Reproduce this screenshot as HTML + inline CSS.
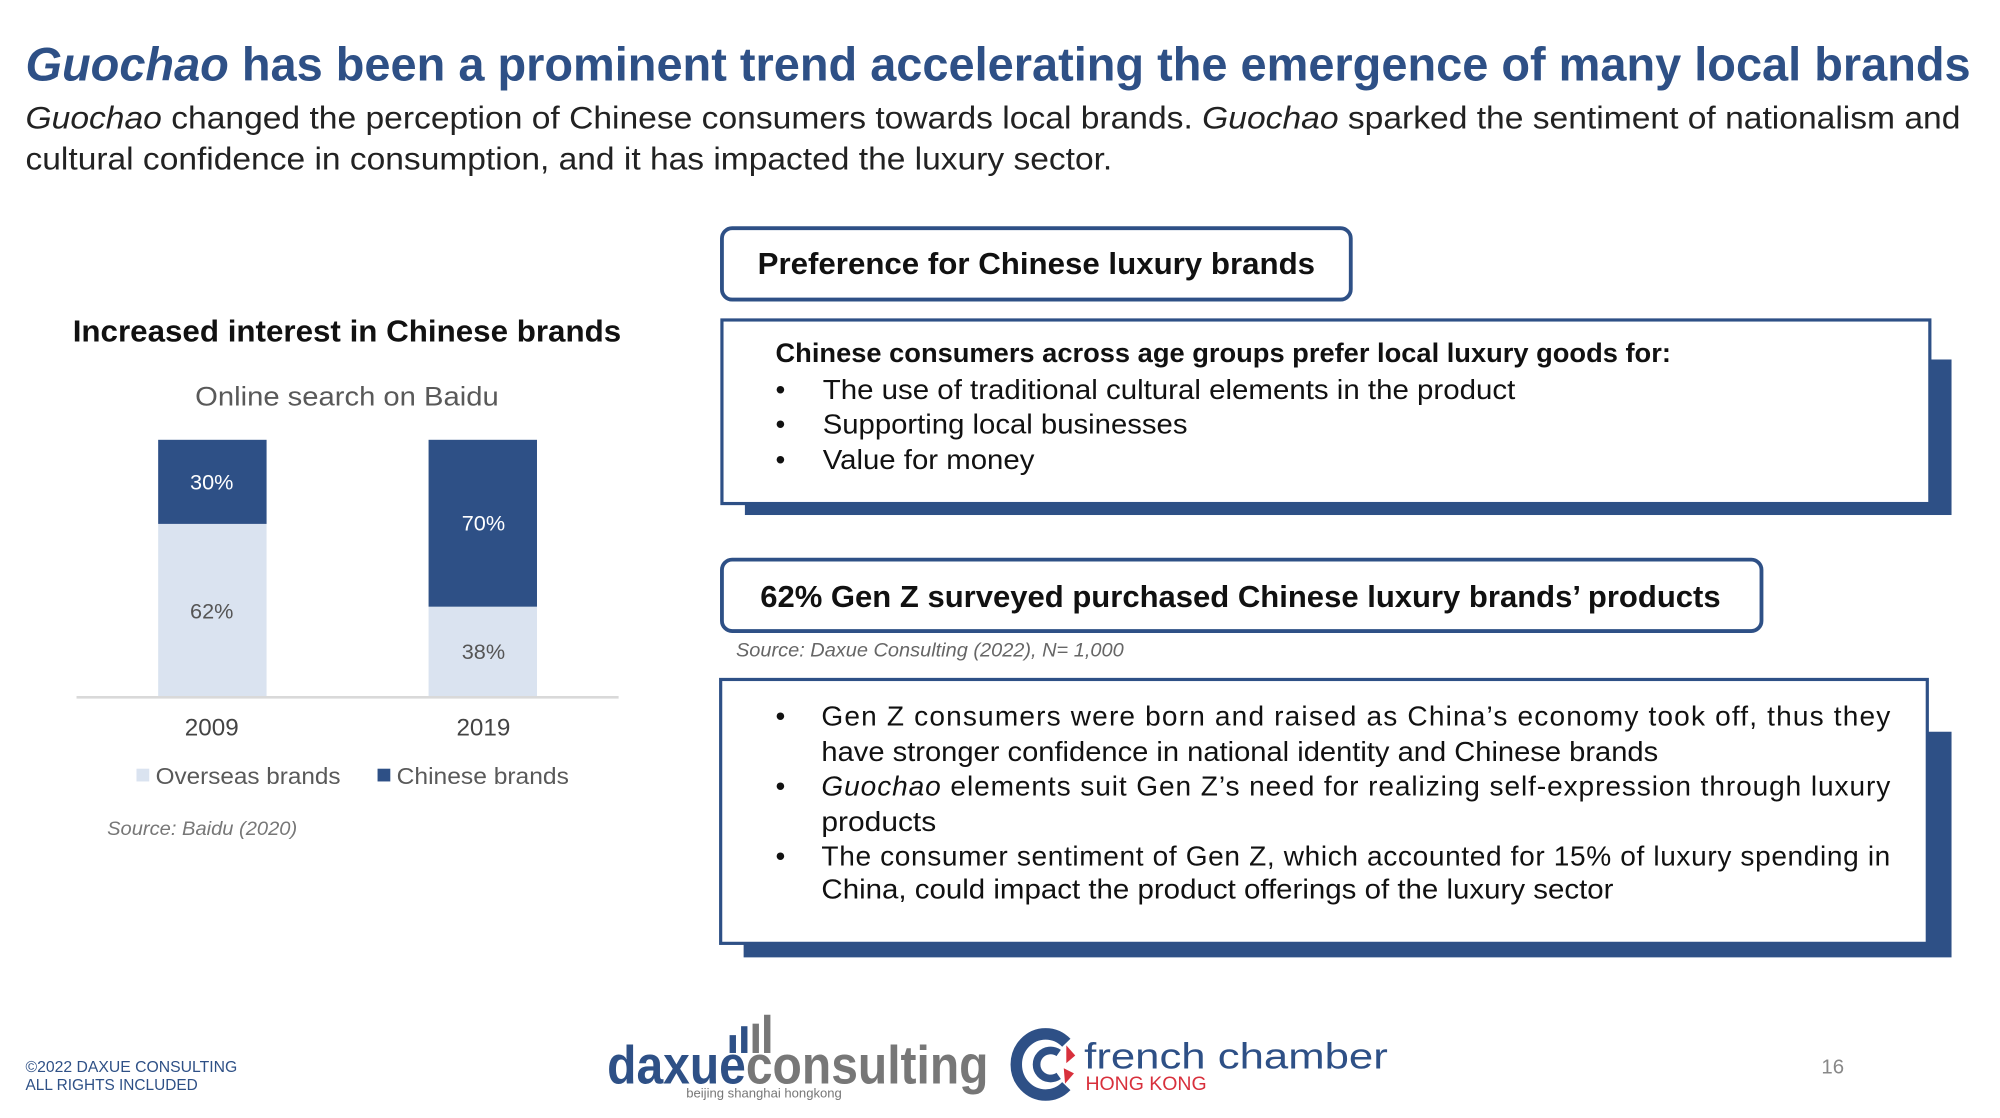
<!DOCTYPE html>
<html><head><meta charset="utf-8">
<style>
html,body{margin:0;padding:0;background:#fff;}
svg{display:block;}
text{font-family:"Liberation Sans",sans-serif;}
</style></head>
<body>
<svg width="2000" height="1118" viewBox="0 0 1568 877" preserveAspectRatio="none" xmlns="http://www.w3.org/2000/svg">
<rect width="1568" height="877" fill="#fff"/>
<!-- Title -->
<text x="20" y="63" font-size="37" font-weight="bold" fill="#2E5086" textLength="1525" lengthAdjust="spacingAndGlyphs"><tspan font-style="italic">Guochao</tspan> has been a prominent trend accelerating the emergence of many local brands</text>
<text x="20" y="101" font-size="25" fill="#222" textLength="1517" lengthAdjust="spacingAndGlyphs"><tspan font-style="italic">Guochao</tspan> changed the perception of Chinese consumers towards local brands. <tspan font-style="italic">Guochao</tspan> sparked the sentiment of nationalism and</text>
<text x="20" y="133" font-size="25" fill="#222" textLength="852" lengthAdjust="spacingAndGlyphs">cultural confidence in consumption, and it has impacted the luxury sector.</text>

<!-- Chart -->
<text x="57" y="268" font-size="24" font-weight="bold" fill="#111" textLength="430" lengthAdjust="spacingAndGlyphs">Increased interest in Chinese brands</text>
<text x="153" y="318" font-size="21" fill="#595959" textLength="238" lengthAdjust="spacingAndGlyphs">Online search on Baidu</text>
<rect x="124" y="345" width="85" height="66" fill="#2E5086"/>
<rect x="124" y="411" width="85" height="135" fill="#DAE3F0"/>
<rect x="336" y="345" width="85" height="131" fill="#2E5086"/>
<rect x="336" y="476" width="85" height="70" fill="#DAE3F0"/>
<g font-size="17" text-anchor="middle">
<text x="166" y="384" fill="#fff">30%</text>
<text x="166" y="485" fill="#555">62%</text>
<text x="379" y="416" fill="#fff">70%</text>
<text x="379" y="517" fill="#555">38%</text>
</g>
<line x1="60" y1="547" x2="485" y2="547" stroke="#d9d9d9" stroke-width="2"/>
<g font-size="19" fill="#444" text-anchor="middle">
<text x="166" y="577">2009</text>
<text x="379" y="577">2019</text>
</g>
<rect x="107" y="603" width="10" height="10" fill="#DAE3F0"/>
<text x="122" y="615" font-size="18" fill="#595959" textLength="145" lengthAdjust="spacingAndGlyphs">Overseas brands</text>
<rect x="296" y="603" width="10" height="10" fill="#2E5086"/>
<text x="311" y="615" font-size="18" fill="#595959" textLength="135" lengthAdjust="spacingAndGlyphs">Chinese brands</text>
<text x="84" y="655" font-size="15" font-style="italic" fill="#777" textLength="149" lengthAdjust="spacingAndGlyphs">Source: Baidu (2020)</text>

<!-- Box 1 header -->
<rect x="566" y="179" width="493" height="56" rx="8" fill="#fff" stroke="#2E5086" stroke-width="3"/>
<text x="594" y="215" font-size="24" font-weight="bold" fill="#111" textLength="437" lengthAdjust="spacingAndGlyphs">Preference for Chinese luxury brands</text>

<!-- Box 2 -->
<rect x="584" y="282" width="946" height="122" fill="#2E5086"/>
<rect x="566" y="251" width="947" height="144" fill="#fff" stroke="#2E5086" stroke-width="2.5"/>
<text x="608" y="284" font-size="21" font-weight="bold" fill="#111" textLength="702" lengthAdjust="spacingAndGlyphs">Chinese consumers across age groups prefer local luxury goods for:</text>
<g font-size="22" fill="#111">
<text x="608" y="313">•</text><text x="645" y="313" textLength="543" lengthAdjust="spacingAndGlyphs">The use of traditional cultural elements in the product</text>
<text x="608" y="340">•</text><text x="645" y="340" textLength="286" lengthAdjust="spacingAndGlyphs">Supporting local businesses</text>
<text x="608" y="368">•</text><text x="645" y="368" textLength="166" lengthAdjust="spacingAndGlyphs">Value for money</text>
</g>

<!-- Box 3 header -->
<rect x="566" y="439" width="815" height="56" rx="8" fill="#fff" stroke="#2E5086" stroke-width="3"/>
<text x="596" y="476" font-size="24" font-weight="bold" fill="#111" textLength="753" lengthAdjust="spacingAndGlyphs">62% Gen Z surveyed purchased Chinese luxury brands’ products</text>
<text x="577" y="515" font-size="15" font-style="italic" fill="#666" textLength="304" lengthAdjust="spacingAndGlyphs">Source: Daxue Consulting (2022), N= 1,000</text>

<!-- Box 4 -->
<rect x="583" y="574" width="947" height="177" fill="#2E5086"/>
<rect x="565" y="533" width="946" height="207" fill="#fff" stroke="#2E5086" stroke-width="2.5"/>
<g font-size="22" fill="#111">
<text x="608" y="569">•</text><text x="644" y="569" textLength="838" lengthAdjust="spacing">Gen Z consumers were born and raised as China’s economy took off, thus they</text>
<text x="644" y="597" textLength="656" lengthAdjust="spacingAndGlyphs">have stronger confidence in national identity and Chinese brands</text>
<text x="608" y="624">•</text><text x="644" y="624" textLength="838" lengthAdjust="spacing"><tspan font-style="italic">Guochao</tspan> elements suit Gen Z’s need for realizing self-expression through luxury</text>
<text x="644" y="652" textLength="90" lengthAdjust="spacingAndGlyphs">products</text>
<text x="608" y="679">•</text><text x="644" y="679" textLength="838" lengthAdjust="spacing">The consumer sentiment of Gen Z, which accounted for 15% of luxury spending in</text>
<text x="644" y="705" textLength="621" lengthAdjust="spacingAndGlyphs">China, could impact the product offerings of the luxury sector</text>
</g>

<!-- Footer -->
<text x="20" y="841" font-size="12" fill="#2E5086" textLength="166" lengthAdjust="spacingAndGlyphs">©2022 DAXUE CONSULTING</text>
<text x="20" y="855" font-size="12" fill="#2E5086" textLength="135" lengthAdjust="spacingAndGlyphs">ALL RIGHTS INCLUDED</text>

<!-- daxue logo -->
<rect x="572" y="812" width="5" height="14" fill="#2E5086"/>
<rect x="581" y="805" width="5" height="21" fill="#2E5086"/>
<rect x="590" y="803" width="5" height="23" fill="#777"/>
<rect x="599" y="796" width="5" height="30" fill="#777"/>
<text x="476" y="850" font-size="42" font-weight="bold" textLength="299" lengthAdjust="spacingAndGlyphs"><tspan fill="#2E5086">daxue</tspan><tspan fill="#777">consulting</tspan></text>
<text x="538" y="861" font-size="10" fill="#777" textLength="122" lengthAdjust="spacingAndGlyphs">beijing shanghai hongkong</text>

<!-- french chamber logo -->
<path d="M836 818 A23 24 0 1 0 836 852" fill="none" stroke="#2E5086" stroke-width="9"/>
<path d="M830 826 A11 11 0 1 0 830 844" fill="none" stroke="#2E5086" stroke-width="6"/>
<path d="M836 820 L843 828 L836 834 Z" fill="#D8303C"/>
<path d="M834 838 L842 842 L835 850 Z" fill="#D8303C"/>
<text x="850" y="838" font-size="28" fill="#2E5086" textLength="238" lengthAdjust="spacingAndGlyphs">french chamber</text>
<text x="851" y="855" font-size="15" fill="#D8303C" textLength="95" lengthAdjust="spacingAndGlyphs">HONG KONG</text>

<text x="1428" y="842" font-size="16" fill="#888">16</text>
</svg>
</body></html>
